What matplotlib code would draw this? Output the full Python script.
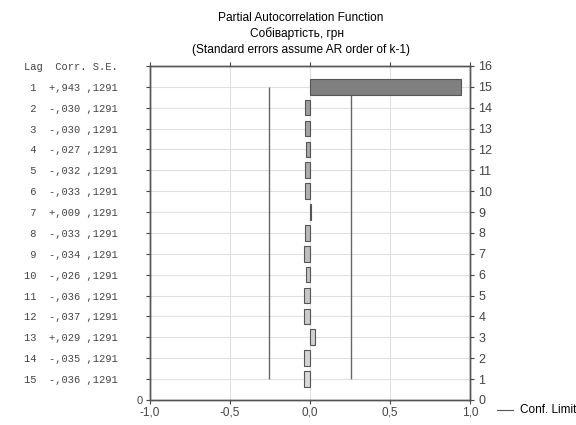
import numpy as np
import matplotlib.pyplot as plt

# Дані PACF
lags = np.arange(1, 16)
corr = [0.943, -0.030, -0.030, -0.027, -0.032, -0.033, 0.009, -0.033,
        -0.034, -0.026, -0.036, -0.037, 0.029, -0.035, -0.036]
se = [0.1291] * 15
conf = 0.258


def fmt_corr(v):
    s = f'{abs(v):.3f}'.replace('0.', ',', 1)
    return ('+' if v >= 0 else '-') + s


rows = [f'{l:>2}  {fmt_corr(c)} {s:.4f}'.replace('0.', ',', 1) + '    '
        for l, c, s in zip(lags, corr, se)]

fig = plt.figure(figsize=(5.76, 4.25), dpi=100)
ax = fig.add_axes([0.260, 0.059, 0.556, 0.786])

ypos = 16 - lags
shades = np.linspace(0.62, 0.85, 14)
colors = ['#808080'] + [str(v) for v in shades]
ax.barh(ypos, corr, height=0.75, color=colors, edgecolor='#555555',
        linewidth=0.8, zorder=3)

# довірчі межі
ax.vlines([-conf, conf], 1, 15, color='#666666', linewidth=1, zorder=2)

ax.set_xlim(-1, 1)
ax.set_ylim(0, 16)
ax.set_xticks([-1, -0.5, 0, 0.5, 1])
ax.set_xticklabels(['-1,0', '-0,5', '0,0', '0,5', '1,0'],
                   family='Liberation Sans', fontsize=8.5)
ax.set_yticks(range(0, 17))
ax.set_yticklabels(['0'] + rows[::-1] + ['Lag  Corr. S.E.    '],
                   family='Liberation Mono', fontsize=7.5)
ax.get_yticklabels()[0].set_family('Liberation Sans')
ax.get_yticklabels()[0].set_fontsize(8)
ax.tick_params(axis='y', left=True, length=3, pad=2, colors='#444444')
ax.tick_params(axis='x', top=True, length=3, pad=2, colors='#444444')
ax.grid(True, color='#e0e0e0', linewidth=0.8, zorder=0)

ax2 = ax.twinx()
ax2.set_ylim(0, 16)
ax2.set_yticks(range(0, 17))
ax2.set_yticklabels([str(i) for i in range(17)], family='Liberation Sans',
                    fontsize=9)
ax2.tick_params(axis='y', length=3, pad=3, colors='#444444')

for a in (ax, ax2):
    for sp in a.spines.values():
        sp.set_color('#555555')
        sp.set_linewidth(1)

fig.text(0.522, 0.957, 'Partial Autocorrelation Function', ha='center',
         va='center', family='Liberation Sans', fontsize=8.6)
fig.text(0.515, 0.920, 'Собівартість, грн', ha='center', va='center',
         family='Liberation Sans', fontsize=8.6)
fig.text(0.522, 0.882, '(Standard errors assume AR order of k-1)',
         ha='center', va='center', family='Liberation Sans', fontsize=8.6)

# легенда
fig.lines.append(plt.Line2D([0.863, 0.891], [0.035, 0.035],
                            transform=fig.transFigure, color='#555555',
                            linewidth=0.8))
fig.text(0.903, 0.035, 'Conf. Limit', va='center', family='Liberation Sans',
         fontsize=8.5)

fig.savefig('out.png', dpi=100, facecolor='white')
